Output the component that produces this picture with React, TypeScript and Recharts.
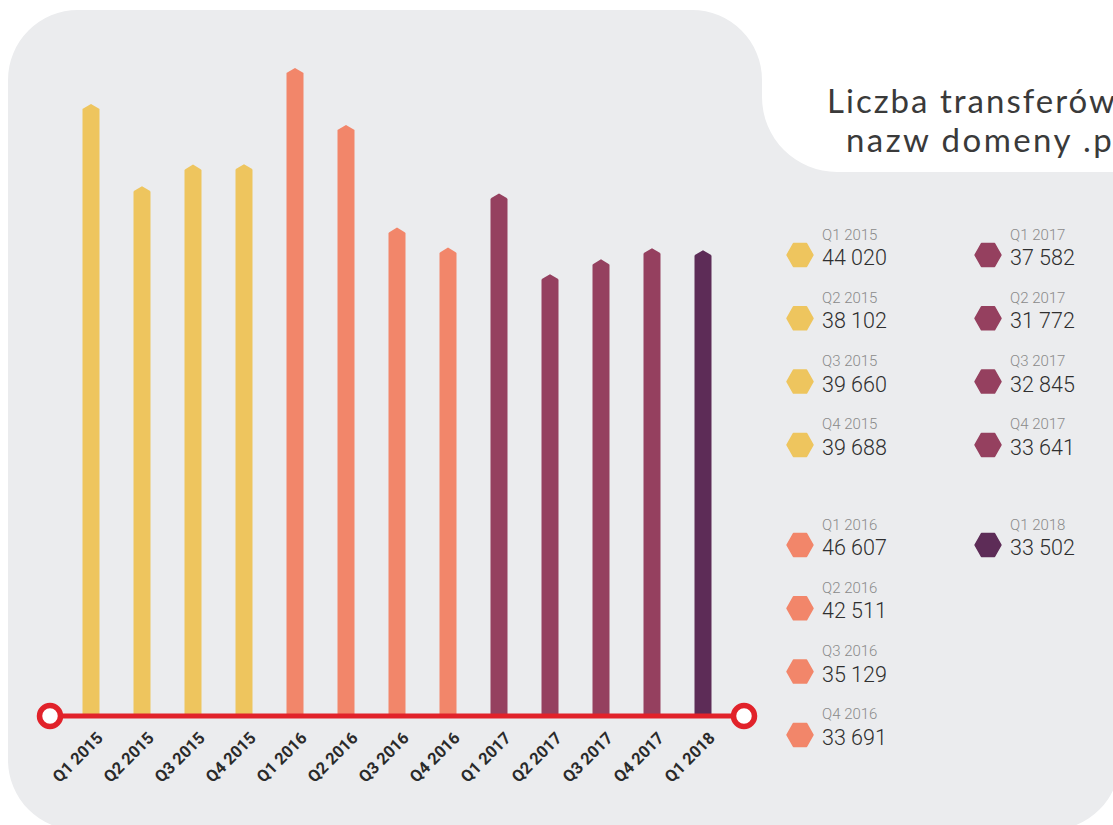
import React from 'react';
import { BarChart, Bar, XAxis, YAxis, Cell } from 'recharts';

const quarters = ['Q1 2015', 'Q2 2015', 'Q3 2015', 'Q4 2015', 'Q1 2016', 'Q2 2016', 'Q3 2016', 'Q4 2016', 'Q1 2017', 'Q2 2017', 'Q3 2017', 'Q4 2017', 'Q1 2018'];
const transfers = [44020, 38102, 39660, 39688, 46607, 42511, 35129, 33691, 37582, 31772, 32845, 33641, 33502];
const yearOf = ['2015', '2015', '2015', '2015', '2016', '2016', '2016', '2016', '2017', '2017', '2017', '2017', '2018'];
const years = ['2015', '2016', '2017', '2018'];
const yearColors = ['#EEC55E', '#F2866A', '#95405F', '#5D2C57'];
const legendValues = ['44 020', '38 102', '39 660', '39 688', '46 607', '42 511', '35 129', '33 691', '37 582', '31 772', '32 845', '33 641', '33 502'];
const titleLines = ['Liczba transferów', 'nazw domeny .pl'];

const data = quarters.map((q, i) => ({ q, v: transfers[i], color: yearColors[years.indexOf(yearOf[i])] }));

const W = 1113;
const H = 825;

const HexBar = (props: any) => {
  const { x, y, width, height, fill } = props;
  if (!height || height <= 0) return null;
  const c = x + width / 2;
  const s = 4.5;
  const d = `M${x},${y + height} L${x},${y + s + 1} L${x + 1.2},${y + s - 0.2} L${c},${y} L${x + width - 1.2},${y + s - 0.2} L${x + width},${y + s + 1} L${x + width},${y + height} Z`;
  return <path d={d} fill={fill} />;
};

const Tick = (props: any) => {
  const { x, y, payload } = props;
  const ax = x + 13;
  const ay = y + 23;
  return (
    <text x={ax} y={ay} transform={`rotate(-45, ${ax}, ${ay})`} textAnchor="end" fontFamily="Roboto, sans-serif" fontWeight={700} fontSize={16.5} fill="#2a2a2a">
      {payload.value}
    </text>
  );
};

const hexPoints = (cx: number, cy: number) => {
  const hw = 13, qw = 6.5, hh = 11.5;
  return `${cx - hw},${cy} ${cx - qw},${cy - hh} ${cx + qw},${cy - hh} ${cx + hw},${cy} ${cx + qw},${cy + hh} ${cx - qw},${cy + hh}`;
};

export default function App() {
  // legend layout: 2015/2016 in first column, 2017/2018 in second
  const legendItems = quarters.map((q, i) => {
    const yi = years.indexOf(yearOf[i]);
    const col = yi < 2 ? 0 : 1;
    const block = yi % 2;
    const rowInBlock = quarters.slice(0, i).filter((_, k) => yearOf[k] === yearOf[i]).length;
    const top = 234 + block * 290 + rowInBlock * 63.3;
    const cx = col === 0 ? 800 : 988;
    return { q, value: legendValues[i], color: yearColors[yi], top, cx };
  });

  return (
    <div style={{ position: 'absolute', left: 0, top: 0, width: W, height: H, overflow: 'hidden', background: '#ffffff' }}>
      <svg width={W} height={H} style={{ position: 'absolute', left: 0, top: 0 }}>
        <path
          d="M8,80 A70,70 0 0 1 78,10 L692,10 A70,70 0 0 1 762,80 L762,97 A75,75 0 0 0 837,172 L1120,172 L1120,760 A70,70 0 0 1 1050,830 L78,830 A70,70 0 0 1 8,760 Z"
          fill="#EBECEE"
        />
        <text x={827} y={113} fontFamily="Lato, sans-serif" fontWeight={400} fontSize={33} fill="#3a3a3a" textLength={288} lengthAdjust="spacing">
          {titleLines[0]}
        </text>
        <text x={846} y={152} fontFamily="Lato, sans-serif" fontWeight={400} fontSize={33} fill="#3a3a3a" textLength={276} lengthAdjust="spacing">
          {titleLines[1]}
        </text>
      </svg>
      <div style={{ position: 'absolute', left: 0, top: 0 }}>
        <BarChart width={W} height={H} data={data} margin={{ top: 68, right: 369, left: 50, bottom: 79 }}>
          <YAxis hide domain={[0, 46607]} />
          <XAxis
            dataKey="q"
            height={30}
            interval={0}
            padding={{ left: 15.5, right: 15.5 }}
            axisLine={{ stroke: '#E1222A', strokeWidth: 5 }}
            tickLine={false}
            tickSize={0}
            tickMargin={0}
            tick={<Tick />}
          />
          <Bar dataKey="v" barSize={17} isAnimationActive={false} shape={<HexBar />}>
            {data.map((d, i) => (
              <Cell key={i} fill={d.color} />
            ))}
          </Bar>
        </BarChart>
      </div>
      <svg width={W} height={H} style={{ position: 'absolute', left: 0, top: 0, pointerEvents: 'none' }}>
        <circle cx={50} cy={716} r={10.5} fill="#ffffff" stroke="#E1222A" strokeWidth={5.5} />
        <circle cx={744} cy={716} r={10.5} fill="#ffffff" stroke="#E1222A" strokeWidth={5.5} />
        {legendItems.map((it, i) => (
          <g key={i}>
            <polygon points={hexPoints(it.cx, it.top + 21)} fill={it.color} stroke={it.color} strokeWidth={1.5} strokeLinejoin="round" />
            <text x={it.cx + 22} y={it.top + 5.5} fontFamily="Roboto, sans-serif" fontWeight={300} fontSize={15} fill="#8a8a8a">
              {it.q}
            </text>
            <text x={it.cx + 22} y={it.top + 31} fontFamily="Roboto, sans-serif" fontWeight={300} fontSize={21.5} fill="#2f2f2f">
              {it.value}
            </text>
          </g>
        ))}
      </svg>
    </div>
  );
}
